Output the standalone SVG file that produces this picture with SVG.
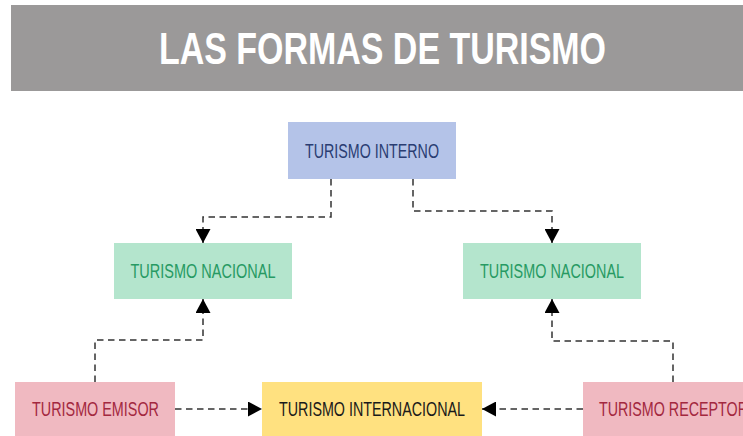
<svg xmlns="http://www.w3.org/2000/svg" width="743" height="436" viewBox="0 0 743 436">
<style>
.lbl{font-family:"Liberation Sans",Arial,sans-serif;font-size:19.5px;text-anchor:middle}
.title{font-family:"Liberation Sans",Arial,sans-serif;font-size:45px;font-weight:bold;fill:#ffffff;text-anchor:middle}
.con{fill:none;stroke:#333333;stroke-width:1.5;stroke-dasharray:6.5 4.5}
.interno rect{fill:#b4c3e8}.interno text{fill:#2a3d72}
.nac rect{fill:#b4e5cd}.nac text{fill:#279a63}
.rosa rect{fill:#f0b9c1}.rosa text{fill:#a3283f}
.inter rect{fill:#ffe180}.inter text{fill:#1a1a1a}
</style>
<defs>
<marker id="arr" viewBox="0 0 14 15" refX="14" refY="7.5" markerWidth="14" markerHeight="15" markerUnits="userSpaceOnUse" orient="auto">
<path d="M0,0 L14,7.5 L0,15 Z" fill="#000000"/>
</marker>
</defs>
<rect width="743" height="436" fill="#ffffff"/>
<g id="header">
<rect x="11" y="5" width="732" height="86" fill="#9b9999"/>
<text class="title" x="382.5" y="64" textLength="447" lengthAdjust="spacingAndGlyphs">LAS FORMAS DE TURISMO</text>
</g>
<g id="connectors">
<path class="con" d="M331,179 V217 H203 V243" marker-end="url(#arr)"/>
<path class="con" d="M413,179 V211 H552 V243" marker-end="url(#arr)"/>
<path class="con" d="M95,382 V340 H203 V299" marker-end="url(#arr)"/>
<path class="con" d="M673,382 V341 H552 V299" marker-end="url(#arr)"/>
<path class="con" d="M175,409 H262" marker-end="url(#arr)"/>
<path class="con" d="M583,409 H482" marker-end="url(#arr)"/>
</g>
<g id="turismo-interno" class="interno">
<rect x="288" y="122" width="168" height="57"/>
<text class="lbl" x="372" y="157.5" textLength="134" lengthAdjust="spacingAndGlyphs">TURISMO INTERNO</text>
</g>
<g id="turismo-nacional-1" class="nac">
<rect x="114" y="243" width="178" height="56"/>
<text class="lbl" x="203" y="278" textLength="145" lengthAdjust="spacingAndGlyphs">TURISMO NACIONAL</text>
</g>
<g id="turismo-nacional-2" class="nac">
<rect x="463" y="243" width="178" height="56"/>
<text class="lbl" x="552" y="278" textLength="144" lengthAdjust="spacingAndGlyphs">TURISMO NACIONAL</text>
</g>
<g id="turismo-emisor" class="rosa">
<rect x="15" y="382" width="160" height="60"/>
<text class="lbl" x="95.5" y="416" textLength="127" lengthAdjust="spacingAndGlyphs">TURISMO EMISOR</text>
</g>
<g id="turismo-internacional" class="inter">
<rect x="262" y="382" width="220" height="60"/>
<text class="lbl" x="372" y="416" textLength="186" lengthAdjust="spacingAndGlyphs">TURISMO INTERNACIONAL</text>
</g>
<g id="turismo-receptor" class="rosa">
<rect x="583" y="382" width="180" height="60"/>
<text class="lbl" x="673.5" y="416" textLength="149" lengthAdjust="spacingAndGlyphs">TURISMO RECEPTOR</text>
</g>
</svg>
